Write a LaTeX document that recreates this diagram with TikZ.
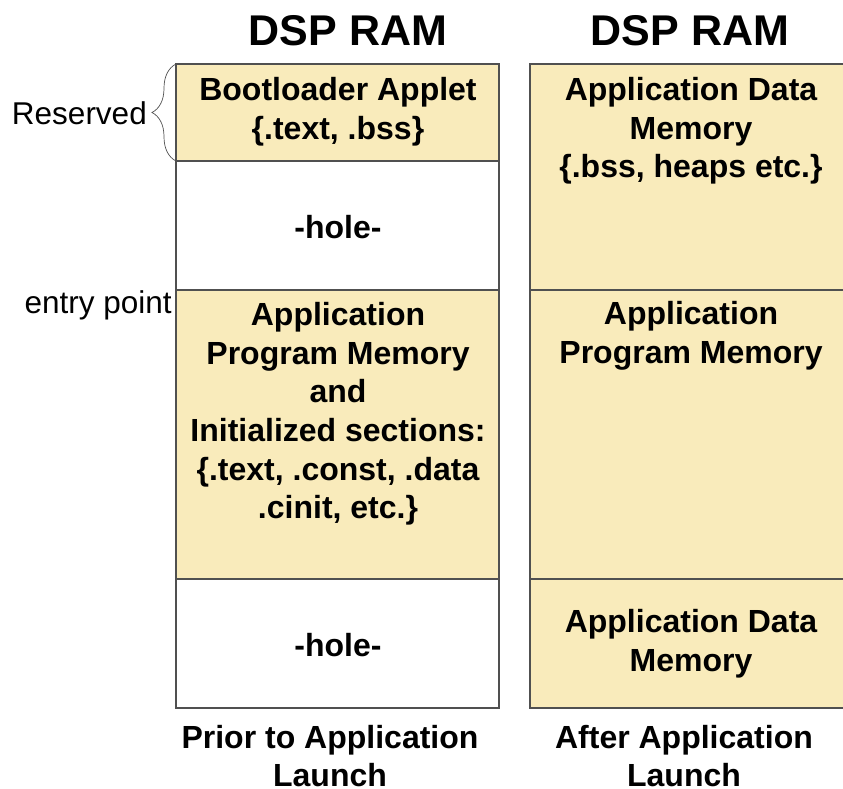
\documentclass[tikz,border=0pt]{standalone}
\usepackage{fontspec}
\setmainfont{Liberation Sans}
\usetikzlibrary{decorations.pathreplacing}
\definecolor{ramfill}{RGB}{249,235,187}
\definecolor{ramline}{RGB}{80,80,80}

\begin{document}
\begin{tikzpicture}[x=1pt,y=-1pt,
  used/.style={fill=ramfill,draw=ramline,line width=1.1pt},
  hole/.style={fill=white,draw=ramline,line width=1.1pt},
  lbl/.style={font=\fontsize{32}{38.6}\selectfont\bfseries,align=center,inner sep=0pt},
  note/.style={font=\fontsize{31.5}{37}\selectfont,inner sep=0pt},
  title/.style={font=\fontsize{43}{50}\selectfont\bfseries,inner sep=0pt}]

\useasboundingbox (0,0) rectangle (843,789);
\clip (0,0) rectangle (843,789);

\node[title] (ttlpre) at (348,31) {DSP RAM};
\node[title] (ttlpost) at (690,31) {DSP RAM};

% prior to launch
\draw[used] (176,64) rectangle (499,161);
\node[lbl] (boot) at (338,112) {Bootloader Applet\\\{.text, .bss\}};
\draw[hole] (176,161) rectangle (499,290);
\node[lbl] (holeup) at (338,227) {-hole-};
\draw[used] (176,290) rectangle (499,579);
\node[lbl] (prog) at (338,414) {Application\\Program Memory\\and\\Initialized sections:\\\{.text, .const, .data\\.cinit, etc.\}};
\draw[hole] (176,579) rectangle (499,708);
\node[lbl] (holedn) at (338,645) {-hole-};

% after launch
\draw[used] (530,64) rectangle (851,290);
\node[lbl] (dataup) at (691,131) {Application Data\\Memory\\\{.bss, heaps etc.\}};
\draw[used] (530,290) rectangle (851,579);
\node[lbl] (progpost) at (691,336) {Application\\Program Memory};
\draw[used] (530,579) rectangle (851,708);
\node[lbl] (datadn) at (691,644) {Application Data\\Memory};

% side notes
\coordinate (rsvbot) at (176,161);
\coordinate (rsvtop) at (176,64);
\draw[decorate,decoration={brace,amplitude=24pt},draw=ramline,line width=0.7pt] (rsvbot) -- (rsvtop);
\node[note,anchor=east] (rsv) at (147,113) {Reserved};
\node[note,anchor=east] (entry) at (172,305) {entry point};

\node[lbl] (prior) at (330,756) {Prior to Application\\Launch};
\node[lbl] (after) at (684,756) {After Application\\Launch};

\end{tikzpicture}
\end{document}
